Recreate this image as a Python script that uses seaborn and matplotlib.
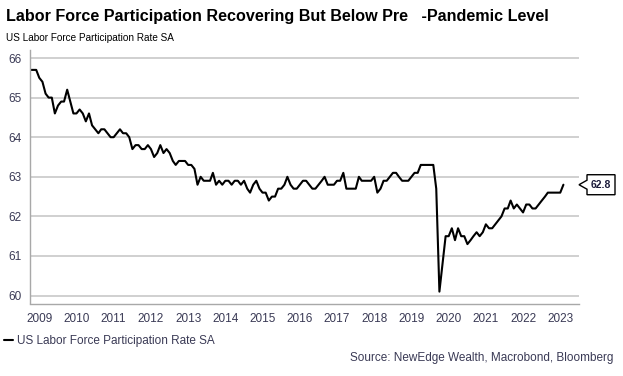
import numpy as np
import pandas as pd
import matplotlib
matplotlib.use("Agg")
import matplotlib.pyplot as plt
import matplotlib.dates as mdates
import matplotlib.transforms as mtransforms
from matplotlib.patches import Polygon
import seaborn as sns

# US labor force participation rate, SA, monthly from Apr 2009
start_month = "2009-04-01"
lfpr = [
    65.7, 65.7, 65.7, 65.5, 65.4, 65.1, 65.0, 65.0, 64.6,                    # 2009 (Apr-Dec)
    64.8, 64.9, 64.9, 65.2, 64.9, 64.6, 64.6, 64.7, 64.6, 64.4, 64.6, 64.3,  # 2010
    64.2, 64.1, 64.2, 64.2, 64.1, 64.0, 64.0, 64.1, 64.2, 64.1, 64.1, 64.0,  # 2011
    63.7, 63.8, 63.8, 63.7, 63.7, 63.8, 63.7, 63.5, 63.6, 63.8, 63.6, 63.7,  # 2012
    63.6, 63.4, 63.3, 63.4, 63.4, 63.4, 63.3, 63.3, 63.2, 62.8, 63.0, 62.9,  # 2013
    62.9, 62.9, 63.1, 62.8, 62.9, 62.8, 62.9, 62.9, 62.8, 62.9, 62.9, 62.8,  # 2014
    62.9, 62.7, 62.6, 62.8, 62.9, 62.7, 62.6, 62.6, 62.4, 62.5, 62.5, 62.7,  # 2015
    62.7, 62.8, 63.0, 62.8, 62.7, 62.7, 62.8, 62.9, 62.9, 62.8, 62.7, 62.7,  # 2016
    62.8, 62.9, 63.0, 62.8, 62.8, 62.8, 62.9, 62.9, 63.1, 62.7, 62.7, 62.7,  # 2017
    62.7, 63.0, 62.9, 62.9, 62.9, 62.9, 63.0, 62.6, 62.7, 62.9, 62.9, 63.0,  # 2018
    63.1, 63.1, 63.0, 62.9, 62.9, 62.9, 63.0, 63.1, 63.1, 63.3, 63.3, 63.3,  # 2019
    63.3, 63.3, 62.7, 60.1, 60.8, 61.5, 61.5, 61.7, 61.4, 61.7, 61.5, 61.5,  # 2020
    61.3, 61.4, 61.5, 61.6, 61.5, 61.6, 61.8, 61.7, 61.7, 61.8, 61.9, 62.0,  # 2021
    62.2, 62.2, 62.4, 62.2, 62.3, 62.2, 62.1, 62.3, 62.3, 62.2, 62.2, 62.3,  # 2022
    62.4, 62.5, 62.6, 62.6, 62.6, 62.6, 62.6, 62.8,                          # 2023 (Jan-Aug)
]
y_ticks = [60, 61, 62, 63, 64, 65, 66]
series_name = "US Labor Force Participation Rate SA"
title = "Labor Force Participation Recovering But Below Pre   -Pandemic Level"
source = "Source: NewEdge Wealth, Macrobond, Bloomberg"

dates = pd.date_range(start_month, periods=len(lfpr), freq="MS")
df = pd.DataFrame({"date": dates, "value": lfpr})

sns.set_style("white")
plt.rcParams["font.family"] = ["Liberation Sans", "DejaVu Sans"]
label_color = "#3a3a55"
grid_color = "#c8c8c8"
spine_color = "#a8a8a8"

fig = plt.figure(figsize=(6.23, 3.76), dpi=100)
ax = fig.add_axes([30 / 623, 72.5 / 376, 549 / 623, 253.4 / 376])

sns.lineplot(data=df, x="date", y="value", color="black", linewidth=1.5, ax=ax,
             label=series_name, legend=False)

ax.set_ylim(59.8, 66.2)
ax.set_xlim(pd.Timestamp("2009-04-01"), pd.Timestamp("2024-01-01"))
ax.set_yticks(y_ticks)
ax.yaxis.grid(True, color=grid_color, linewidth=1.2)
ax.set_axisbelow(True)
ax.set_xlabel("")
ax.set_ylabel("")

# year boundary ticks, labels centred mid-year
ax.xaxis.set_major_locator(mdates.YearLocator())
ax.xaxis.set_major_formatter(plt.NullFormatter())
ax.xaxis.set_minor_locator(mdates.MonthLocator(bymonth=7))
ax.xaxis.set_minor_formatter(mdates.DateFormatter("%Y"))
ax.tick_params(axis="x", which="major", length=4, width=1, color=spine_color, direction="out")
ax.tick_params(axis="x", which="minor", length=0, pad=7, labelsize=8.5, labelcolor=label_color)
ax.tick_params(axis="y", length=4, width=1, color=spine_color, direction="out",
               labelsize=8.5, labelcolor=label_color, pad=2)

for side in ["top", "right"]:
    ax.spines[side].set_visible(False)
for side in ["left", "bottom"]:
    ax.spines[side].set_color(spine_color)
    ax.spines[side].set_linewidth(1)

# last value callout
last = lfpr[-1]
ax_pt = mtransforms.blended_transform_factory(ax.transAxes, ax.transData).transform((1.0, last))
px, py = ax_pt
verts = [(px, py), (px + 8, py + 4.5), (px + 8, py + 10), (px + 36, py + 10),
         (px + 36, py - 10), (px + 8, py - 10), (px + 8, py - 4.5)]
fig.add_artist(Polygon(verts, closed=True, facecolor="white", edgecolor="black",
                       linewidth=1, transform=mtransforms.IdentityTransform(), clip_on=False))
fig.text(px + 22, py, f"{last:.1f}", transform=mtransforms.IdentityTransform(),
         ha="center", va="center", fontsize=7.5, fontweight="bold", color="#1a1a3a")

fig.text(0.01, 0.955, title, fontsize=11.6, fontweight="bold", color="black", va="center")
fig.text(0.01, 0.899, series_name, fontsize=7.2, color="black", va="center")

handles, labels = ax.get_legend_handles_labels()
leg = fig.legend(handles, labels, loc="center left", bbox_to_anchor=(0.0, 0.093),
                 frameon=False, fontsize=8.5, handlelength=0.8, handletextpad=0.3,
                 borderaxespad=0, borderpad=0.3)
for t in leg.get_texts():
    t.set_color(label_color)

fig.text(0.984, 0.048, source, fontsize=8.5, color=label_color, ha="right", va="center")

fig.savefig("out.png", dpi=100)
